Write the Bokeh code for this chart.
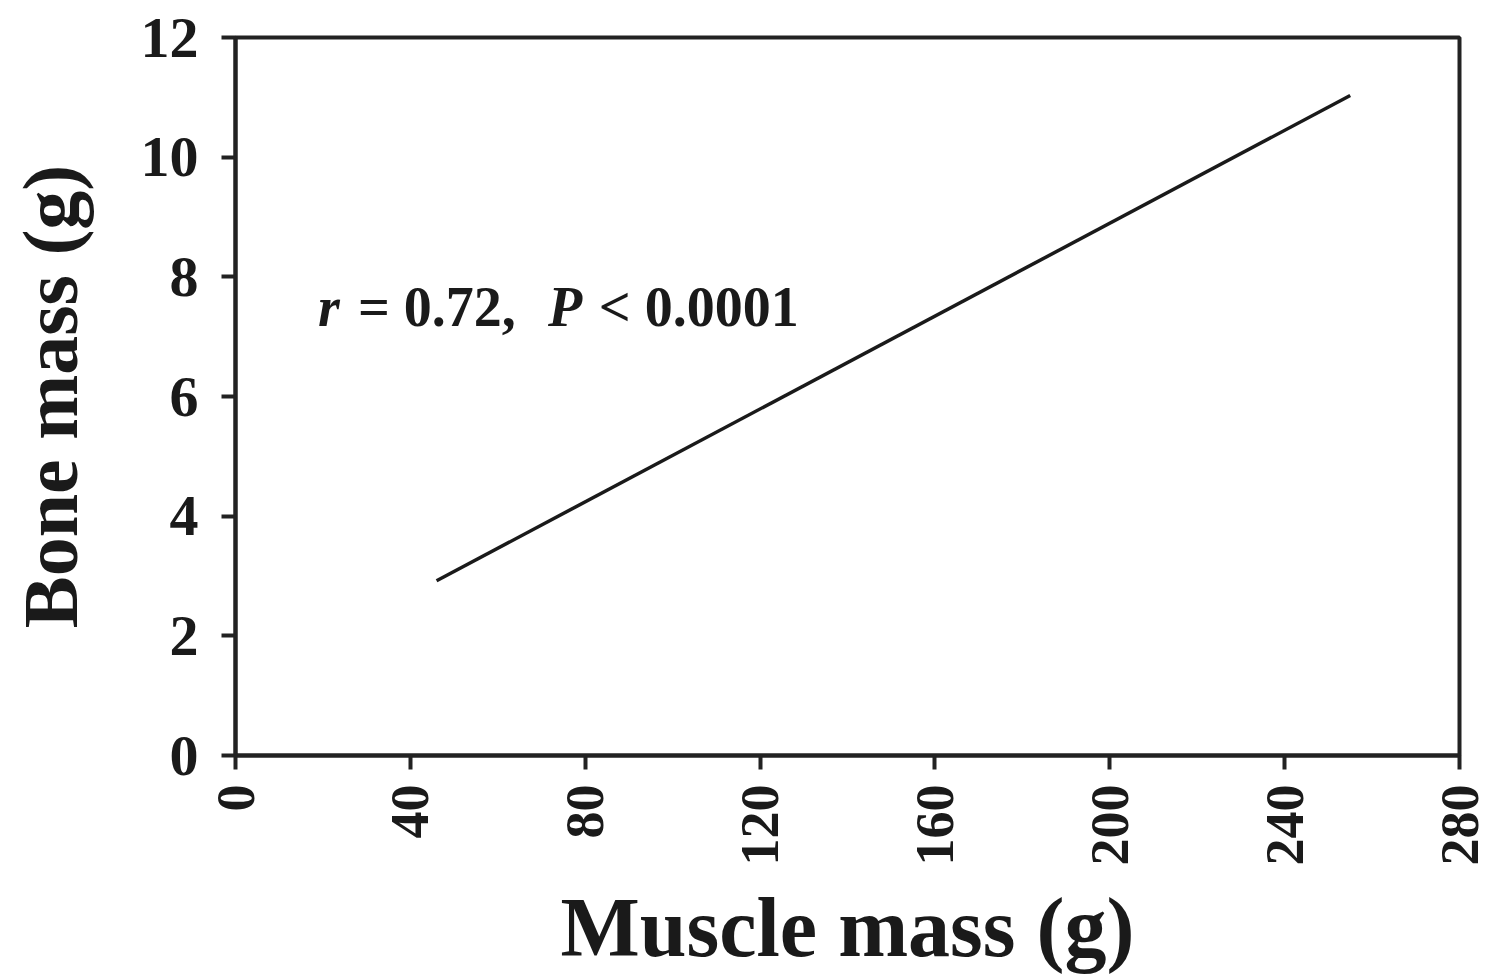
import math
from bokeh.plotting import figure
from bokeh.models import Range1d, FixedTicker, Label
from bokeh.embed import file_html
from bokeh.resources import INLINE

# data
muscle_mass = [46, 255]
bone_mass = [2.92, 11.03]
x_ticks = [0, 40, 80, 120, 160, 200, 240, 280]
y_ticks = [0, 2, 4, 6, 8, 10, 12]

FONT = "Liberation Serif"

W, H = 1488, 976
p = figure(width=W, height=H, output_backend="svg", toolbar_location=None,
           x_range=Range1d(0, 280), y_range=Range1d(0, 12),
           min_border_left=235, min_border_right=W - 1459, min_border_top=37,
           min_border_bottom=H - 757)
p.background_fill_color = "white"
p.border_fill_color = "white"
p.grid.visible = False
p.outline_line_color = "#222222"
p.outline_line_width = 4

p.line(muscle_mass, bone_mass, line_color="#1a1a1a", line_width=3.5)

for ax in (p.xaxis[0], p.yaxis[0]):
    ax.axis_line_width = 4
    ax.axis_line_color = "#222222"
    ax.major_tick_line_width = 4
    ax.major_tick_line_color = "#222222"
    ax.major_tick_out = 14
    ax.major_tick_in = 0
    ax.minor_tick_line_color = None
    ax.major_label_text_font = FONT
    ax.major_label_text_font_style = "bold"
    ax.major_label_text_color = "#1a1a1a"
    ax.axis_label_text_font = FONT
    ax.axis_label_text_font_style = "bold"
    ax.axis_label_text_color = "#1a1a1a"

p.xaxis.major_label_text_font_size = "54px"
p.yaxis.major_label_text_font_size = "58px"
p.xaxis.axis_label_text_font_size = "84px"
p.yaxis.axis_label_text_font_size = "78px"
p.xaxis.ticker = FixedTicker(ticks=x_ticks)
p.yaxis.ticker = FixedTicker(ticks=y_ticks)
p.xaxis.major_label_orientation = math.pi / 2
p.xaxis.major_label_standoff = 15
p.yaxis.major_label_standoff = 23
p.xaxis.axis_label = "Muscle mass (g)"
p.yaxis.axis_label = "Bone mass (g)"
p.xaxis.axis_label_standoff = 12
p.yaxis.axis_label_standoff = 44

# annotation pieces
pieces = [("r", "bold italic", 18.9), ("= 0.72,", "bold", 28.0), ("P", "bold italic", 71.5), ("< 0.0001", "bold", 83.1)]
for txt, style, xpos in pieces:
    p.add_layout(Label(x=xpos, y=7.5, text=txt, text_font=FONT, text_font_style=style,
                       text_font_size="56px", text_color="#1a1a1a", text_baseline="alphabetic"))

open("out.html", "w").write(file_html(p, INLINE))
